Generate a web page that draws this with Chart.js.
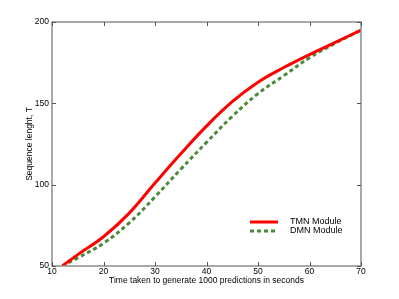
<!DOCTYPE html>
<html>
<head>
<meta charset="utf-8">
<script src="https://cdn.jsdelivr.net/npm/chart.js@4/dist/chart.umd.min.js"></script>
<style>
  html, body { margin: 0; padding: 0; background: #fff; }
  #wrap { width: 399px; height: 299px; }
</style>
</head>
<body>
<div id="wrap"><canvas id="c" width="399" height="299"></canvas></div>
<script>
// time (s) vs sequence length
const times = [12, 15, 20, 25, 30, 35, 40, 45, 50, 55, 60, 65, 70];
const tmnValues = [50, 57, 68, 82.5, 101, 119, 136, 151, 163, 172, 180, 187.5, 195];
const dmnValues = [50, 55, 64, 76.5, 92.5, 109.5, 126, 142, 156, 167, 178, 187, 195];
const xTicks = [10, 20, 30, 40, 50, 60, 70];
const yTicks = [50, 100, 150, 200];

const FONT = 'Liberation Sans, Arial, Helvetica, sans-serif';
const FRAME = '#8c8c8c';

// frame, inward ticks and a legend inside the plot
const framePlugin = {
    id: 'frame',
    afterDatasetsDraw(chart) {
        const { ctx, chartArea: a, scales } = chart;
        ctx.save();
        ctx.strokeStyle = FRAME;
        ctx.lineWidth = 1.5;
        ctx.strokeRect(a.left, a.top, a.right - a.left, a.bottom - a.top);
        ctx.lineWidth = 1;
        ctx.strokeStyle = '#555';
        xTicks.forEach((v) => {
            const x = Math.round(scales.x.getPixelForValue(v)) + 0.5;
            ctx.beginPath();
            ctx.moveTo(x, a.bottom); ctx.lineTo(x, a.bottom - 4);
            ctx.moveTo(x, a.top); ctx.lineTo(x, a.top + 4);
            ctx.stroke();
        });
        yTicks.forEach((v) => {
            const y = Math.round(scales.y.getPixelForValue(v)) + 0.5;
            ctx.beginPath();
            ctx.moveTo(a.left, y); ctx.lineTo(a.left + 4, y);
            ctx.moveTo(a.right, y); ctx.lineTo(a.right - 4, y);
            ctx.stroke();
        });

        // legend
        const lx = a.left + 198;
        let ly = a.top + 200;
        chart.data.datasets.forEach((ds) => {
            ctx.beginPath();
            ctx.strokeStyle = ds.borderColor;
            ctx.lineWidth = ds.borderWidth;
            ctx.setLineDash(ds.borderDash || []);
            ctx.moveTo(lx, ly); ctx.lineTo(lx + 28, ly);
            ctx.stroke();
            ctx.setLineDash([]);
            ctx.fillStyle = '#000';
            ctx.font = '9px ' + FONT;
            ctx.textBaseline = 'middle';
            ctx.fillText(ds.label, lx + 40, ly);
            ly += 9;
        });
        ctx.restore();
    },
};

new Chart(document.getElementById('c').getContext('2d'), {
    type: 'line',
    data: {
        datasets: [
            {
                label: 'TMN Module',
                data: times.map((t, i) => ({ x: t, y: tmnValues[i] })),
                borderColor: '#ff0000',
                borderWidth: 3,
                pointRadius: 0,
                tension: 0.4,
            },
            {
                label: 'DMN Module',
                data: times.map((t, i) => ({ x: t, y: dmnValues[i] })),
                borderColor: '#4a8a3a',
                borderWidth: 3,
                borderDash: [4, 3],
                pointRadius: 0,
                tension: 0.4,
            },
        ],
    },
    options: {
        responsive: false,
        animation: false,
        layout: { padding: { left: 25, top: 22, right: 38, bottom: 13 } },
        plugins: { legend: { display: false }, tooltip: { enabled: false } },
        scales: {
            x: {
                type: 'linear',
                min: 10,
                max: 70,
                afterBuildTicks: (s) => { s.ticks = xTicks.map((v) => ({ value: v })); },
                afterFit: (s) => { s.height = 20; },
                grid: { display: false, drawTicks: false },
                border: { display: false },
                ticks: { color: '#000', padding: 1, maxRotation: 0, font: { family: FONT, size: 8.5 } },
                title: {
                    display: true,
                    text: 'Time taken to generate 1000 predictions in seconds',
                    color: '#000',
                    padding: { top: 0, bottom: 0 },
                    font: { family: FONT, size: 8.5 },
                },
            },
            y: {
                type: 'linear',
                min: 50,
                max: 200,
                afterBuildTicks: (s) => { s.ticks = yTicks.map((v) => ({ value: v })); },
                afterFit: (s) => { s.width = 27; },
                grid: { display: false, drawTicks: false },
                border: { display: false },
                ticks: { color: '#000', padding: 3, font: { family: FONT, size: 8.5 } },
                title: {
                    display: true,
                    text: 'Sequence lenght, T',
                    color: '#000',
                    padding: { top: 0, bottom: 0 },
                    font: { family: FONT, size: 8.5 },
                },
            },
        },
    },
    plugins: [framePlugin],
});
</script>
</body>
</html>
